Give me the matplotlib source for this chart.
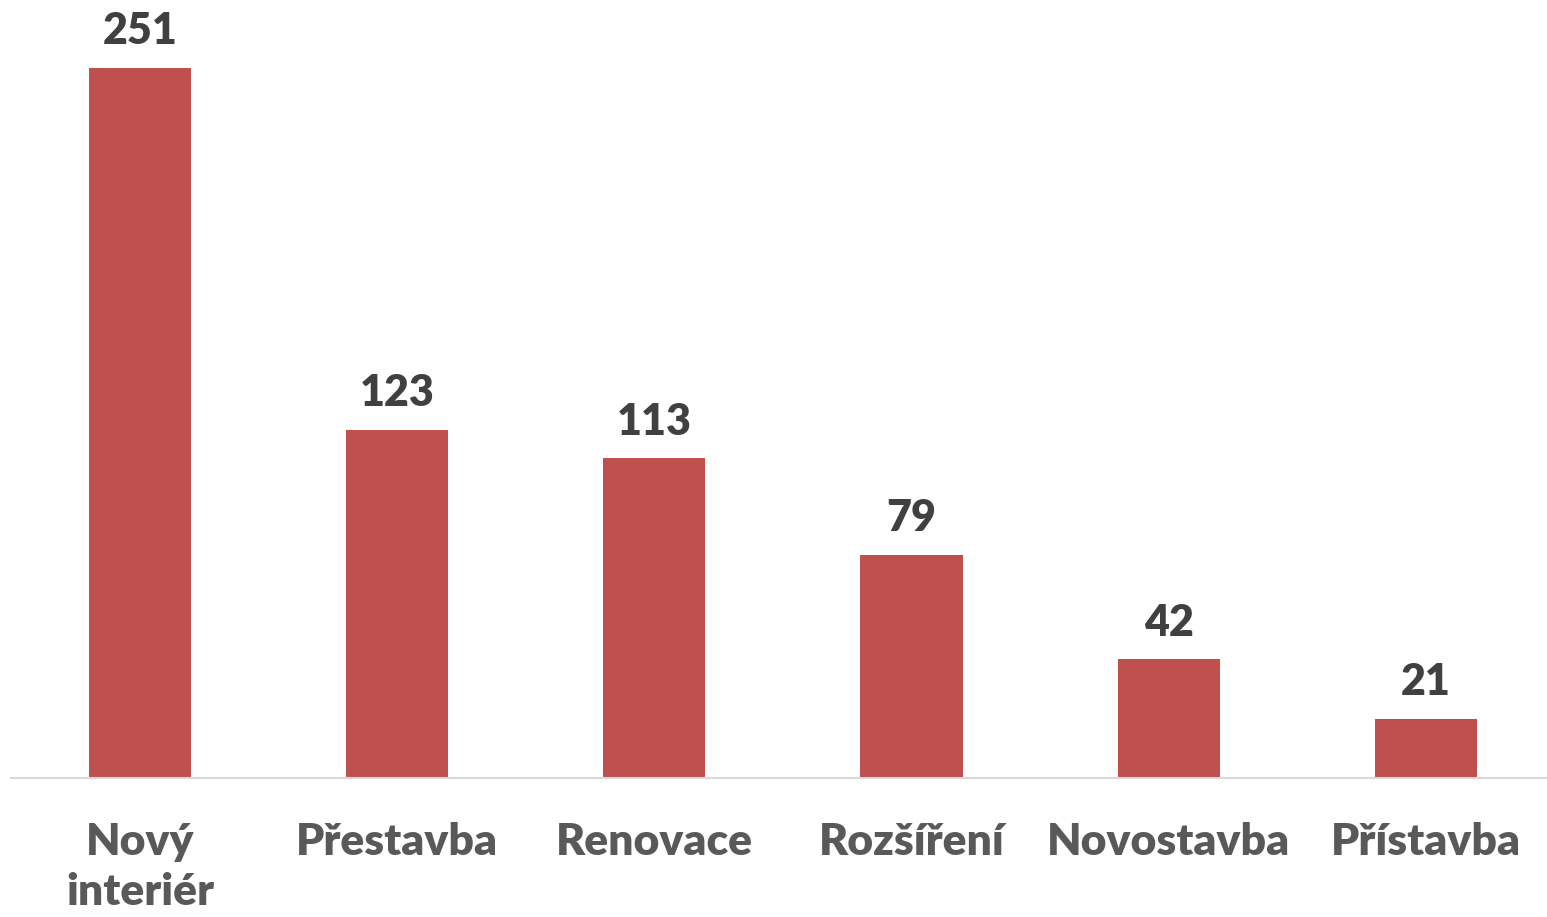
import matplotlib
matplotlib.use("Agg")
from matplotlib import pyplot as plt

categories = ["Nový\ninteriér", "Přestavba", "Renovace", "Rozšíření", "Novostavba", "Přístavba"]
values = [251, 123, 113, 79, 42, 21]

plt.rcParams['font.family'] = ['Lato', 'DejaVu Sans']

fig = plt.figure(figsize=(15.47, 9.17), dpi=100)
ax = fig.add_axes([11.4 / 1547, 139 / 917, 1543 / 1547, 778 / 917])

x = list(range(len(categories)))
ax.bar(x, values, width=0.397, color='#C0504D', zorder=2)

for xi, v in zip(x, values):
    ax.annotate(str(v), (xi, v), xytext=(0, 17), textcoords='offset points',
                ha='center', va='baseline', fontsize=31, fontweight='heavy',
                color='#404040')

ax.set_xlim(-0.5, len(categories) - 0.5)
ax.set_ylim(0, 275)
ax.set_xticks(x)
ax.set_xticklabels(categories, fontsize=32, fontweight='heavy', color='#595959',
                   linespacing=1.3)
ax.tick_params(axis='x', length=0, pad=32)
ax.set_yticks([])
for s in ['top', 'right', 'left']:
    ax.spines[s].set_visible(False)
ax.spines['bottom'].set_color('#D9D9D9')
ax.spines['bottom'].set_linewidth(1.5)

fig.savefig('out.png', dpi=100)
